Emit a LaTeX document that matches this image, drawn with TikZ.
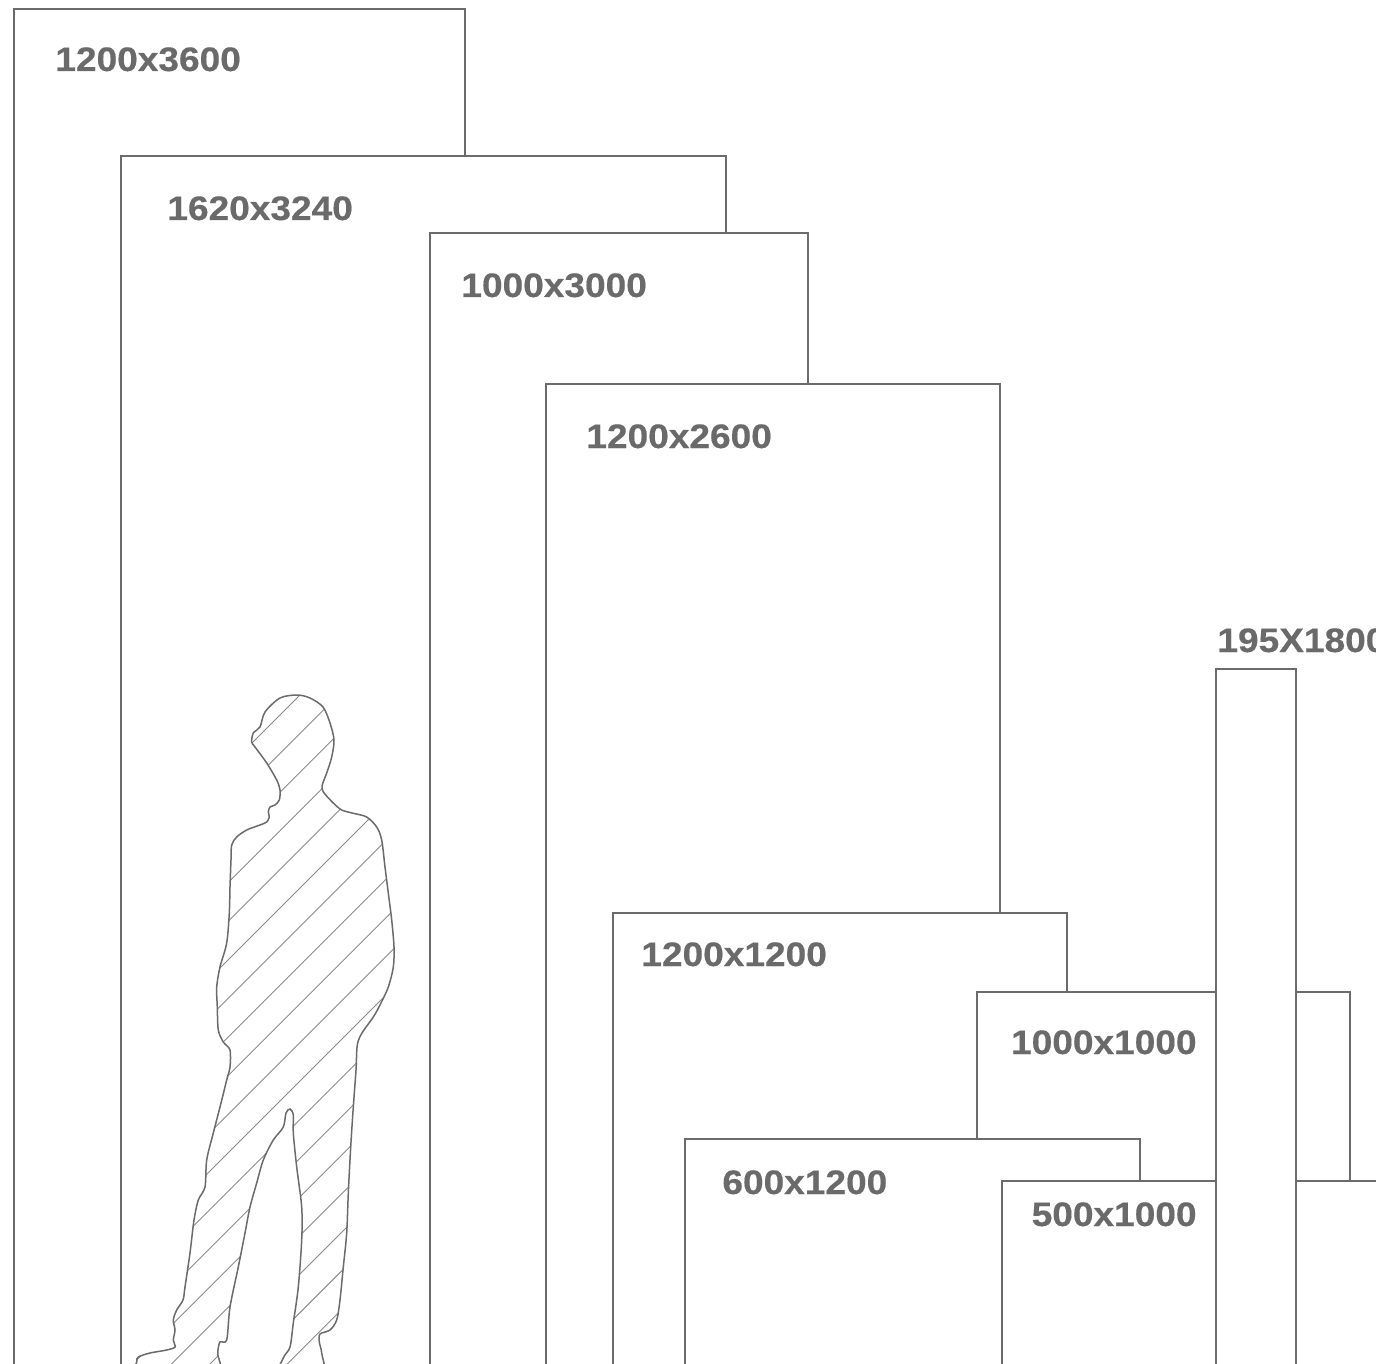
\documentclass[tikz,border=0pt]{standalone}
\usepackage{fontspec}
\setmainfont{Liberation Sans}
\newfontfamily\lblfont{Liberation Sans}[UprightFont={* Bold},FakeBold=0.35]
\definecolor{ln}{HTML}{6B6B6B}
\definecolor{tx}{HTML}{6A6A6A}
\definecolor{ht}{HTML}{8A8A8A}
\begin{document}
\begin{tikzpicture}[x=0.5pt,y=-0.5pt,
  panel/.style={draw=ln,line width=1pt,fill=white},
  lbl/.style={anchor=base west,inner sep=0pt,text=tx,font=\fontsize{17}{20}\lblfont},
  person/.style={draw=ln,line width=0.75pt,fill=white},
  hatch/.style={draw=ht,line width=0.45pt}]
\useasboundingbox (0,0) rectangle (1376,1364);
\clip (0,0) rectangle (1376,1364);
\fill[white] (0,0) rectangle (1376,1364);
% 1200x3600
\draw[panel] (14,9) rectangle (465,1420);
\node[lbl] (l1) at (55,71) {\scalebox{1.09}[1]{1200x3600}};
% 1620x3240
\draw[panel] (121,156) rectangle (726,1420);
\node[lbl] (l2) at (167,220) {\scalebox{1.09}[1]{1620x3240}};
% person
\draw[person, path picture={
  \foreach \k in {-2,...,18} \draw[hatch] ({995+38.6*\k},0) -- ({995+38.6*\k-1500},1500);
}] plot[smooth cycle, tension=0.5] coordinates {
(297,695) (310,698) (323,707) (330,723) (334,740) (331.7,757) (326.7,773) (322.3,785)
(323.3,792) (333.3,803) (341.7,810) (353.3,813.3) (366.7,817) (376.7,827) (381.7,840)
(385,867) (388.3,893) (391.7,920) (394,947) (393.3,967) (388.3,987) (380,1005)
(373.3,1017) (362,1033) (357.3,1045) (356,1070) (353.3,1107) (350.7,1147) (348.3,1193)
(346.7,1233) (343.3,1267) (340,1300) (336.7,1320) (330,1330) (320,1334) (319.3,1342)
(321.7,1353) (323,1380) (277,1380) (283.3,1358) (290,1347) (293.3,1323) (298.3,1287)
(301.7,1240) (301.7,1207) (296.7,1167) (293.3,1133) (293.3,1115) (290,1109) (286,1113)
(283.3,1127) (273.3,1140) (263.3,1160) (256.7,1183) (250,1207) (245,1233) (238.3,1267)
(230,1307) (226.7,1340) (220,1342) (217.7,1353) (216.7,1380) (136,1380) (136.7,1362)
(138.3,1357) (150,1353) (166.7,1350) (175,1347) (173.3,1340) (175,1330) (173.3,1320)
(176.7,1310) (183,1300) (185,1287) (190,1253) (194,1220) (198.3,1200) (205,1187)
(206.7,1160) (213.3,1133) (220,1107) (226.7,1080) (230,1067) (230,1050) (223.3,1042)
(218.3,1030) (217.3,1007) (216.7,987) (220,967) (226.7,943) (229.3,913) (230,887)
(231,860) (231.7,845) (236.7,837) (246.7,830) (260,825) (266.7,822) (269.3,817)
(268.3,812) (270,807) (275,805) (279.3,800) (280,790) (276.7,780) (266.7,763)
(255,747) (251.7,742) (253.3,733) (260,727) (265,712) (280,698)
};
% 1000x3000
\draw[panel] (430,233) rectangle (808,1420);
\node[lbl] (l3) at (461,297) {\scalebox{1.09}[1]{1000x3000}};
% 1200x2600
\draw[panel] (546,384) rectangle (1000,1420);
\node[lbl] (l4) at (586,448) {\scalebox{1.09}[1]{1200x2600}};
% 1200x1200
\draw[panel] (613,913) rectangle (1067,1420);
\node[lbl] (l5) at (641,966) {\scalebox{1.09}[1]{1200x1200}};
% 1000x1000
\draw[panel] (977,992) rectangle (1350,1420);
\node[lbl,anchor=base east] (l6) at (1197,1054) {\scalebox{1.09}[1]{1000x1000}};
% 600x1200
\draw[panel] (685,1139) rectangle (1140,1420);
\node[lbl] (l7) at (722,1194) {\scalebox{1.09}[1]{600x1200}};
% 500x1000
\draw[panel] (1002,1181) rectangle (1500,1420);
\node[lbl,anchor=base east] (l8) at (1197,1226) {\scalebox{1.09}[1]{500x1000}};
% 195X1800
\draw[panel] (1216,669) rectangle (1296,1420);
\node[lbl] (l9) at (1217,652) {\scalebox{1.09}[1]{195X1800}};
\end{tikzpicture}
\end{document}
